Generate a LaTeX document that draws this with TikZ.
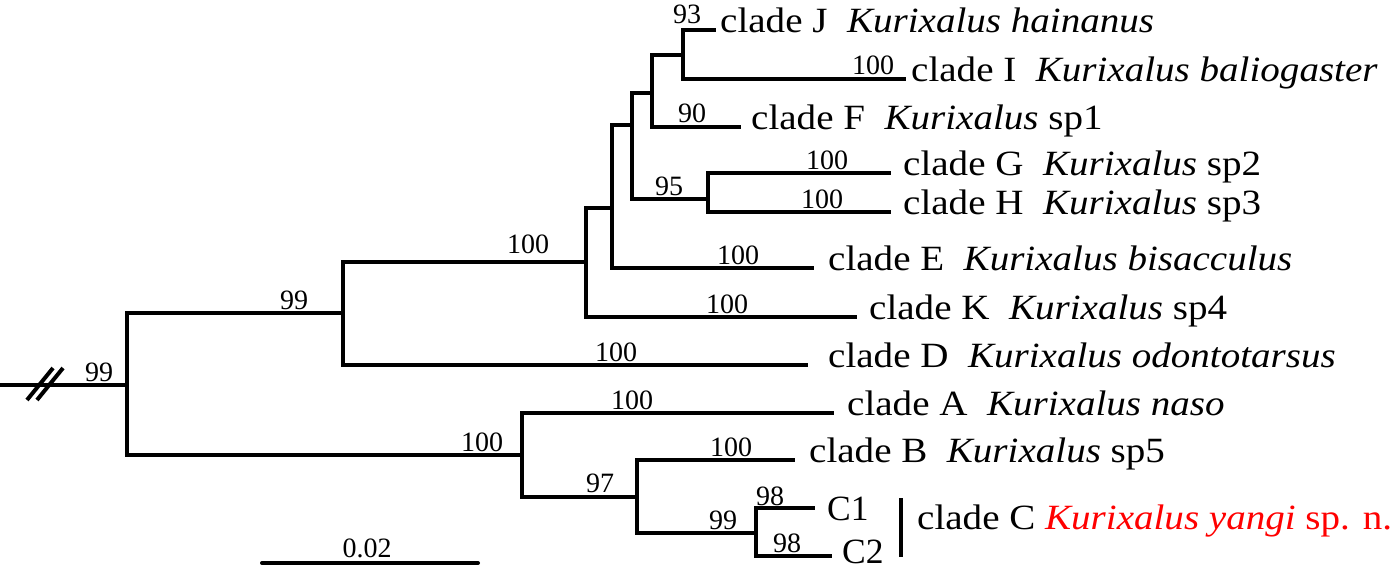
\documentclass[tikz,border=0pt]{standalone}
\usepackage{fontspec}
\setmainfont{Liberation Serif}
\usepackage{graphicx}
\usetikzlibrary{positioning}
\definecolor{newsp}{RGB}{255,0,0}
\tikzset{
    % Define style for branches
    branch/.style={
           line width=4pt,
           line join=miter},
    % Define style for taxon labels
    taxon/.style={
           anchor=mid west,
           inner sep=0pt,
           font=\fontsize{35.5}{40}\selectfont},
    % Define style for bootstrap values
    boot/.style={
           anchor=base,
           inner sep=0pt,
           font=\fontsize{28}{32}\selectfont}
}
\newcommand*{\lab}[1]{\scalebox{1.1}[1]{#1}}

\begin{document}
\begin{tikzpicture}[x=1pt,y=-1pt]
\useasboundingbox (0,0) rectangle (1394,575);
% Internal nodes of the tree
\coordinate (r)   at (0,385);
\coordinate (n0)  at (127,385);
\coordinate (n1)  at (343,313);
\coordinate (n2)  at (586,262);
\coordinate (n3)  at (612,208);
\coordinate (n4)  at (632,125);
\coordinate (n5)  at (652,93);
\coordinate (n6)  at (683,55);
\coordinate (n7)  at (708,199);
\coordinate (n8)  at (522,455);
\coordinate (n9)  at (637,497);
\coordinate (n10) at (756,533);

% Tips
\coordinate (tJ)  at (716,30);
\coordinate (tI)  at (906,79);
\coordinate (tF)  at (741,127);
\coordinate (tG)  at (891,173);
\coordinate (tH)  at (891,212);
\coordinate (tE)  at (814,268);
\coordinate (tK)  at (857,317);
\coordinate (tD)  at (808,365);
\coordinate (tA)  at (834,413);
\coordinate (tB)  at (795,460);
\coordinate (tC1) at (815,508);
\coordinate (tC2) at (832,556);

% Now connect the nodes
\draw[branch] (r) -- (n0);
\draw[branch] (n0) |- (n1);
\draw[branch] (n0) |- (n8);
\draw[branch] (n1) |- (n2);
\draw[branch] (n1) |- (tD);
\draw[branch] (n2) |- (n3);
\draw[branch] (n2) |- (tK);
\draw[branch] (n3) |- (n4);
\draw[branch] (n3) |- (tE);
\draw[branch] (n4) |- (n5);
\draw[branch] (n4) |- (n7);
\draw[branch] (n5) |- (n6);
\draw[branch] (n5) |- (tF);
\draw[branch] (n6) |- (tJ);
\draw[branch] (n6) |- (tI);
\draw[branch] (n7) |- (tG);
\draw[branch] (n7) |- (tH);
\draw[branch] (n8) |- (tA);
\draw[branch] (n8) |- (n9);
\draw[branch] (n9) |- (tB);
\draw[branch] (n9) |- (n10);
\draw[branch] (n10) |- (tC1);
\draw[branch] (n10) |- (tC2);

% Break marks on the root
\draw[branch] (27,400) -- (53,368);
\draw[branch] (37,400) -- (63,368);

% Taxon labels
\node[taxon] (J) at (720,30)  {\lab{clade J\enskip\textit{Kurixalus hainanus}}};
\node[taxon] (I) at (911,79)  {\lab{clade I\enskip\textit{Kurixalus baliogaster}}};
\node[taxon] (F) at (751,127) {\lab{clade F\enskip\textit{Kurixalus} sp1}};
\node[taxon] (G) at (903,173) {\lab{clade G\enskip\textit{Kurixalus} sp2}};
\node[taxon] (H) at (903,212) {\lab{clade H\enskip\textit{Kurixalus} sp3}};
\node[taxon] (E) at (828,268) {\lab{clade E\enskip\textit{Kurixalus bisacculus}}};
\node[taxon] (K) at (869,317) {\lab{clade K\enskip\textit{Kurixalus} sp4}};
\node[taxon] (D) at (828,365) {\lab{clade D\enskip\textit{Kurixalus odontotarsus}}};
\node[taxon] (A) at (847,413) {\lab{clade A\enskip\textit{Kurixalus naso}}};
\node[taxon] (B) at (809,460) {\lab{clade B\enskip\textit{Kurixalus} sp5}};
\node[taxon, anchor=base west] (C1) at (827,520) {C1};
\node[taxon, anchor=base west] (C2) at (842,563) {C2};

% Bar for clade C
\coordinate (cT) at (901,498);
\coordinate (cB) at (901,557);
\draw[line width=4.5pt] (cT) -- (cB);
\node[taxon] (C) at (917,527) {\lab{clade C \textcolor{newsp}{\textit{Kurixalus yangi} sp. n.}}};

% Bootstrap values
\node[boot] (b0)  at (99,381)  {99};
\node[boot] (b1)  at (294,309) {99};
\node[boot] (b2)  at (528,253) {100};
\node[boot] (bD)  at (616,361) {100};
\node[boot] (b6)  at (687,24)  {93};
\node[boot] (bI)  at (873,75)  {100};
\node[boot] (b5)  at (692,123) {90};
\node[boot] (bG)  at (827,169) {100};
\node[boot] (b7)  at (669,195) {95};
\node[boot] (bH)  at (822,208) {100};
\node[boot] (bE)  at (738,264) {100};
\node[boot] (bK)  at (727,313) {100};
\node[boot] (bA)  at (632,409) {100};
\node[boot] (b8)  at (482,451) {100};
\node[boot] (bB)  at (731,456) {100};
\node[boot] (b9)  at (600,492) {97};
\node[boot] (bC1) at (770,505) {98};
\node[boot] (b10) at (723,529) {99};
\node[boot] (bC2) at (787,552) {98};

% Scale bar
\coordinate (s0) at (262,563);
\coordinate (s1) at (478,563);
\draw[branch, line cap=round] (s0) -- (s1);
\node[boot] (sc) at (367,557) {0.02};
\end{tikzpicture}
\end{document}
